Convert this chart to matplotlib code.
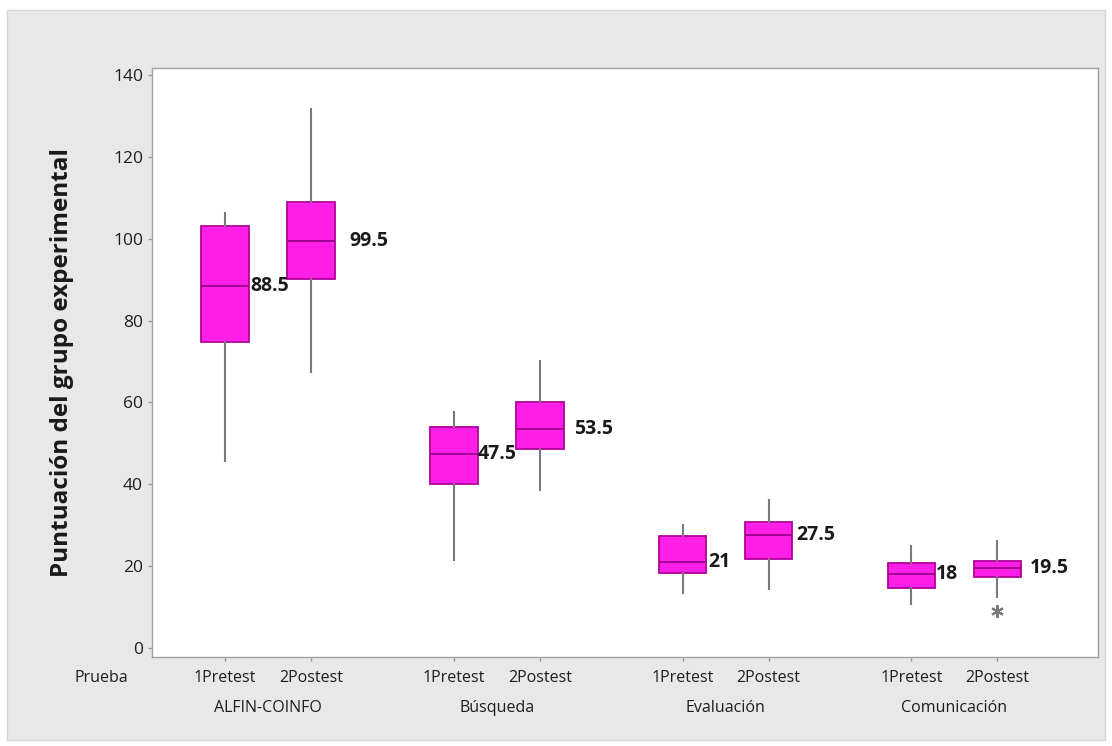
import matplotlib
matplotlib.use("Agg")
import matplotlib.pyplot as plt
from matplotlib.patches import Rectangle

# ---- data ----
groups = ["ALFIN-COINFO", "Búsqueda", "Evaluación", "Comunicación"]
tests = ["1Pretest", "2Postest"]
medians = [88.5, 99.5, 47.5, 53.5, 21, 27.5, 18, 19.5]
q1 = [74.7, 90.2, 40.1, 48.6, 18.4, 21.7, 14.6, 17.4]
q3 = [103.0, 109.0, 53.9, 60.2, 27.4, 30.7, 20.7, 21.3]
wlo = [45.7, 67.5, 21.5, 38.6, 13.4, 14.4, 10.7, 12.5]
whi = [106.3, 131.7, 57.7, 70.0, 30.0, 36.2, 24.8, 26.1]
outliers = [[], [], [], [], [], [], [], [9.1]]
median_labels = ["88.5", "99.5", "47.5", "53.5", "21", "27.5", "18", "19.5"]
yticks = [0, 20, 40, 60, 80, 100, 120, 140]

# ---- layout ----
positions = [0, 1, 2.66, 3.66, 5.32, 6.32, 7.98, 8.98]
label_dx = [0.29, 0.45, 0.28, 0.40, 0.30, 0.32, 0.28, 0.38]

W, H = 1112, 746
fig = plt.figure(figsize=(W / 100, H / 100), dpi=100, facecolor="white")
bg = Rectangle((7 / W, 1 - 740 / H), 1098 / W, 730 / H,
               transform=fig.transFigure, facecolor="#e8e8e8",
               edgecolor="#d6d6d6", linewidth=1, zorder=-10)
fig.patches.append(bg)

ax = fig.add_axes([152 / W, 1 - 657 / H, 946 / W, 589 / H])
ax.set_zorder(1)
ax.set_facecolor("white")

stats = []
for i in range(len(medians)):
    stats.append(dict(med=medians[i], q1=q1[i], q3=q3[i], whislo=wlo[i],
                      whishi=whi[i], fliers=outliers[i]))

fill = "#ff1fe6"
edge = "#b1009f"
grey = "#7a7a7a"
ax.bxp(stats, positions=positions, widths=0.55, patch_artist=True,
       showcaps=False,
       boxprops=dict(facecolor=fill, edgecolor=edge, linewidth=1.3),
       medianprops=dict(color="#a0008f", linewidth=1.4),
       whiskerprops=dict(color=grey, linewidth=1.5),
       flierprops=dict(marker=(6, 2, 0), markersize=9, markerfacecolor=grey,
                       markeredgecolor=grey, markeredgewidth=1.5))

for p, m, lab, dx in zip(positions, medians, median_labels, label_dx):
    ax.text(p + dx, m, lab, ha="left", va="center", fontsize=14,
            fontweight="bold", color="#1a1a1a", family="Open Sans")

txt = dict(family="Open Sans", color="#1e1e1e", fontweight="medium")
ax.set_xlim(-0.85, 10.15)
ax.set_ylim(-2.2, 141.7)
ax.set_yticks(yticks)
ax.set_yticklabels([str(v) for v in yticks], fontsize=12.5, **txt)
ax.set_xticks(positions)
ax.set_xticklabels([tests[i % 2] for i in range(len(positions))],
                   fontsize=11.5, **txt)
ax.tick_params(axis="both", length=3, color="#999999", width=1)
ax.tick_params(axis="x", pad=6)
for s in ax.spines.values():
    s.set_color("#a0a0a0")
    s.set_linewidth(1)

ax.set_ylabel("Puntuación del grupo experimental", fontsize=17.5,
              family="Open Sans", fontweight="bold", color="#1a1a1a",
              labelpad=28)

# group labels and "Prueba" row label
for gi, g in enumerate(groups):
    cx = (positions[2 * gi] + positions[2 * gi + 1]) / 2
    ax.text(cx, -0.087, g, transform=ax.get_xaxis_transform(), ha="center",
            va="center", fontsize=11.5, **txt)
ax.text(-1.44, -0.036, "Prueba", transform=ax.get_xaxis_transform(),
        ha="center", va="center", fontsize=11.5, clip_on=False, **txt)

fig.savefig("out.png", dpi=100, facecolor=fig.get_facecolor())
